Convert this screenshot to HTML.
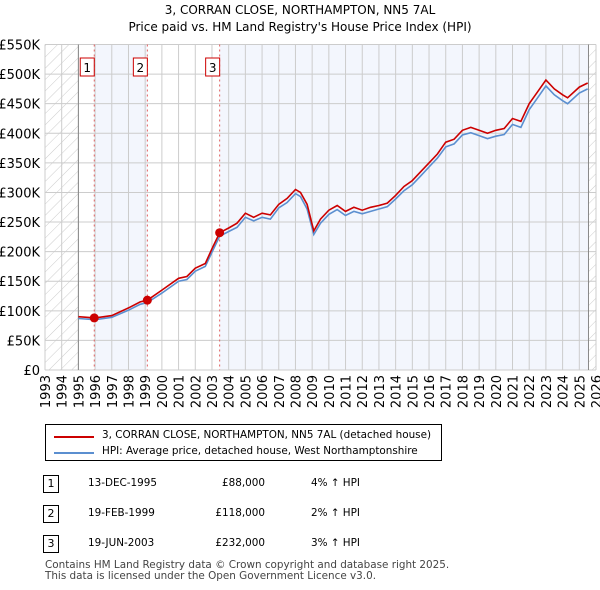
<!DOCTYPE html>
<html><head><meta charset="utf-8"><style>
body{margin:0;background:#fff;font-family:"DejaVu Sans","Liberation Sans",sans-serif;}
#wrap{position:relative;width:600px;height:590px;overflow:hidden}
.t{position:absolute;font-size:12px;color:#000;white-space:nowrap}
</style></head><body><div id="wrap">
<svg id="svg" width="600" height="590" style="position:absolute;left:0;top:0">
<defs><pattern id="hatch" width="8" height="8" patternUnits="userSpaceOnUse" patternTransform="rotate(45)"><line x1="0" y1="0" x2="0" y2="8" stroke="#ccc" stroke-width="1"/></pattern></defs>
<text x="300" y="14" text-anchor="middle" font-size="12" font-family="DejaVu Sans, sans-serif">3, CORRAN CLOSE, NORTHAMPTON, NN5 7AL</text>
<text x="300" y="31" text-anchor="middle" font-size="12" font-family="DejaVu Sans, sans-serif">Price paid vs. HM Land Registry's House Price Index (HPI)</text>
<g id="plot"></g>
</svg>
<div style="position:absolute;left:45px;top:424px;width:397px;height:37px;border:1px solid #000;box-sizing:border-box">
 <div style="position:absolute;left:8px;top:11px;width:40px;height:2px;background:#cc0000"></div>
 <div class="t" style="left:56px;top:4px;font-size:10.4px">3, CORRAN CLOSE, NORTHAMPTON, NN5 7AL (detached house)</div>
 <div style="position:absolute;left:8px;top:27px;width:40px;height:2px;background:#5b8fd0"></div>
 <div class="t" style="left:56px;top:20px;font-size:10.4px">HPI: Average price, detached house, West Northamptonshire</div>
</div>
<div id="rows"></div>
<div class="t" style="left:45px;top:560px;font-size:10.4px;color:#444;line-height:11px">Contains HM Land Registry data © Crown copyright and database right 2025.<br>This data is licensed under the Open Government Licence v3.0.</div>
</div>
<script>
const years=[1995,1996,1997,1998,1998.7,1999.13,2000,2001,2001.5,2002,2002.6,2003,2003.46,2004,2004.5,2005,2005.5,2006,2006.5,2007,2007.5,2008,2008.3,2008.7,2009.1,2009.5,2010,2010.5,2011,2011.5,2012,2012.5,2013,2013.5,2014,2014.5,2015,2015.5,2016,2016.5,2017,2017.5,2018,2018.5,2019,2019.5,2020,2020.5,2021,2021.5,2022,2022.5,2023,2023.5,2024,2024.3,2025,2025.5];
const propVals=[90,88,92,105,115,118,135,155,158,172,180,205,232,240,248,265,258,265,262,280,290,305,300,280,235,255,270,278,268,275,270,275,278,282,295,310,320,335,350,365,385,390,405,410,405,400,405,408,425,420,450,470,490,475,465,460,478,485];
const hpiVals=[87,85,89,101,111,114,130,150,153,167,175,199,226,234,241,258,252,258,255,274,283,298,293,272,229,248,263,271,261,268,264,268,272,276,289,303,313,328,343,358,377,382,397,401,396,391,395,398,415,410,440,460,480,465,455,450,468,475];
const saleYears=[1995.95,1999.13,2003.46];
const saleVals=[88,118,232];
const saleDates=["13-DEC-1995","19-FEB-1999","19-JUN-2003"];
const salePrices=["£88,000","£118,000","£232,000"];
const saleHpi=["4% ↑ HPI","2% ↑ HPI","3% ↑ HPI"];
const yTicks=[0,50,100,150,200,250,300,350,400,450,500,550];
const yLabels=["£0","£50K","£100K","£150K","£200K","£250K","£300K","£350K","£400K","£450K","£500K","£550K"];
const xTicks=[1993,1994,1995,1996,1997,1998,1999,2000,2001,2002,2003,2004,2005,2006,2007,2008,2009,2010,2011,2012,2013,2014,2015,2016,2017,2018,2019,2020,2021,2022,2023,2024,2025,2026];
const X0=45,X1=596,Y0=370,Y1=44.5;
const xs=y=>X0+(y-1993)/33*(X1-X0);
const ys=v=>Y0-v/550*(Y0-Y1);
const NS="http://www.w3.org/2000/svg";
const FF='DejaVu Sans, sans-serif';
const g=document.getElementById('plot');
function mk(t,a,p){const e=document.createElementNS(NS,t);for(const k in a)e.setAttribute(k,a[k]);(p||g).appendChild(e);return e;}
let e;
e=mk('rect',{x:xs(1995),y:Y1,width:xs(2025.55)-xs(1995),height:Y0-Y1,fill:'#f3f6fd'});


e=mk('rect',{x:xs(1995),y:Y1,width:xs(saleYears[0])-xs(1995),height:Y0-Y1,fill:'#fff'});


e=mk('rect',{x:xs(saleYears[1]),y:Y1,width:xs(saleYears[2])-xs(saleYears[1]),height:Y0-Y1,fill:'#fff'});


e=mk('rect',{x:X0,y:Y1,width:xs(1995)-X0,height:Y0-Y1,fill:'url(#hatch)'});


e=mk('rect',{x:xs(2025.55),y:Y1,width:X1-xs(2025.55),height:Y0-Y1,fill:'url(#hatch)'});


yTicks.forEach((v,i)=>{
 e=mk('line',{x1:X0,x2:X1,y1:ys(v),y2:ys(v),stroke:'#ccc','stroke-width':1});
 
 
 e=mk('text',{x:40,y:ys(v)+5,'text-anchor':'end','font-size':13,'font-family':FF});
 e.textContent=yLabels[i];
 
 
});
xTicks.forEach(y=>{
 e=mk('line',{x1:xs(y),x2:xs(y),y1:Y1,y2:Y0,stroke:'#ccc','stroke-width':1});
 
 
 e=mk('text',{x:0,y:0,'text-anchor':'end','font-size':13,'font-family':FF,transform:`translate(${xs(y)+5},${Y0+5}) rotate(-90)`});
 e.textContent=y;
 
 
});
[1995,2025.55].forEach(y=>{e=mk('line',{x1:xs(y),x2:xs(y),y1:Y1,y2:Y0,stroke:'#888','stroke-width':1});

});
saleYears.forEach((y,i)=>{
 e=mk('line',{x1:xs(y),x2:xs(y),y1:Y1,y2:Y0,stroke:'#e06060','stroke-width':1,'stroke-dasharray':'2,3'});
 
 
 e=mk('rect',{x:xs(y)-14,y:58,width:14,height:18,fill:'#fff',stroke:'#cc0000'});
 
 
 e=mk('text',{x:xs(y)-7,y:72,'text-anchor':'middle','font-size':12,'font-family':FF});
 e.textContent=i+1;
 
 
});
const pts=(vals)=>years.map((y,i)=>xs(y).toFixed(1)+','+ys(vals[i]).toFixed(1)).join(' ');
e=mk('polyline',{points:pts(hpiVals),fill:'none',stroke:'#5b8fd0','stroke-width':1.6});


e=mk('polyline',{points:pts(propVals),fill:'none',stroke:'#cc0000','stroke-width':1.6});


saleYears.forEach((y,i)=>{
 e=mk('circle',{cx:xs(y),cy:ys(saleVals[i]),r:4.5,fill:'#cc0000'});
 
 
});
const rows=document.getElementById('rows');
saleDates.forEach((d,i)=>{
 const top=475+i*30;
 const r=document.createElement('div');
 
 
 r.innerHTML=`<div style="position:absolute;left:43px;top:${top}px;width:16px;height:18px;border:1px solid #000;box-sizing:border-box;font-size:11px;text-align:center;line-height:16px">${i+1}</div>
 <div class="t" style="left:88px;top:${top+2}px;font-size:10.4px">${d}</div>
 <div class="t" style="left:190px;top:${top+2}px;width:75px;text-align:right;font-size:10.4px">${salePrices[i]}</div>
 <div class="t" style="left:311px;top:${top+2}px;font-size:10.4px">${saleHpi[i]}</div>`;
 rows.appendChild(r);
});
</script></body></html>
